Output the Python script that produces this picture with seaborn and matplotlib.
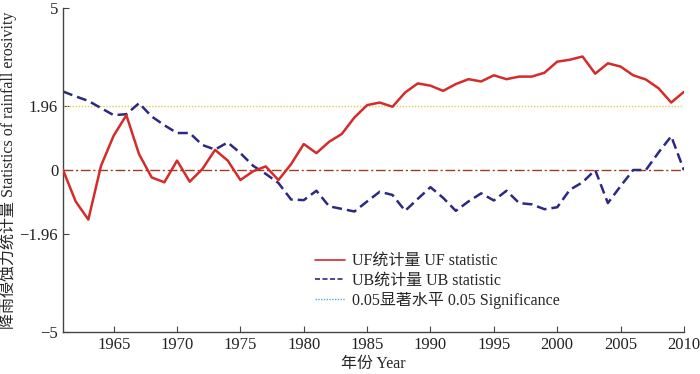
import numpy as np
import pandas as pd
import seaborn as sns
import matplotlib.pyplot as plt
from matplotlib.lines import Line2D

sns.set_style("ticks")
plt.rcParams['font.family'] = ['Liberation Serif', 'Noto Sans CJK SC']
plt.rcParams['axes.unicode_minus'] = True

# Datos
years = list(range(1961, 2011))
uf = [0.0, -0.97, -1.53, 0.13, 1.06, 1.69, 0.49, -0.23, -0.38, 0.29,
      -0.36, 0.03, 0.62, 0.29, -0.31, -0.04, 0.11, -0.31, 0.18, 0.80,
      0.52, 0.87, 1.11, 1.62, 2.00, 2.08, 1.95, 2.39, 2.67, 2.60,
      2.44, 2.65, 2.80, 2.73, 2.92, 2.80, 2.88, 2.88, 3.00, 3.34,
      3.40, 3.50, 2.97, 3.29, 3.19, 2.92, 2.79, 2.52, 2.08, 2.41]
ub = [2.42, 2.27, 2.13, 1.91, 1.69, 1.72, 2.06, 1.65, 1.38, 1.14,
      1.14, 0.77, 0.63, 0.85, 0.52, 0.13, -0.12, -0.40, -0.91, -0.93,
      -0.64, -1.12, -1.20, -1.28, -0.97, -0.67, -0.77, -1.26, -0.89, -0.53,
      -0.86, -1.26, -0.97, -0.72, -0.94, -0.64, -1.02, -1.06, -1.21, -1.15,
      -0.61, -0.38, 0.00, -1.02, -0.50, 0.00, 0.00, 0.54, 1.04, 0.00]
signif = 1.96
y_ticks = [-5, -1.96, 0, 1.96, 5]
y_labels = ["\u22125", "\u22121.96", "0", "1.96", "5"]
x_ticks = [1965, 1970, 1975, 1980, 1985, 1990, 1995, 2000, 2005, 2010]

df = pd.DataFrame({"year": years, "UF": uf, "UB": ub})

red = "#D42B2B"
navy = "#2C2A80"

fig, ax = plt.subplots(figsize=(7, 3.74), dpi=100)
fig.subplots_adjust(left=0.09, right=0.977, bottom=0.112, top=0.979)

ax.axhline(signif, color="#E6CC55", lw=1.0, ls=(0, (1, 1.2)), zorder=1)
ax.axhline(0, color="#A03A2A", lw=1.0, ls=(0, (7, 2, 1.5, 2)), zorder=1)

sns.lineplot(data=df, x="year", y="UF", color=red, lw=1.8, ax=ax, zorder=3)
sns.lineplot(data=df, x="year", y="UB", color=navy, lw=1.8,
             ls=(0, (4, 2)), ax=ax, zorder=2)

ax.set_xlim(1961, 2010)
ax.set_ylim(-5, 5)
ax.set_xticks(x_ticks)
ax.set_yticks(y_ticks)
ax.set_yticklabels(y_labels)
ax.tick_params(direction="in", length=4, labelsize=12, color="#444444",
               labelcolor="#222222")
sns.despine(ax=ax)
for s in ["left", "bottom"]:
    ax.spines[s].set_color("#444444")
    ax.spines[s].set_linewidth(1.0)

ax.set_xlabel("年份 Year", fontsize=11.5, labelpad=2)
ax.set_ylabel("降雨侵蚀力统计量 Statistics of rainfall erosivity",
              fontsize=11.5, labelpad=2)

handles = [
    Line2D([], [], color=red, lw=1.2),
    Line2D([], [], color=navy, lw=1.2, ls=(0, (3, 1.5))),
    Line2D([], [], color="#5AA8D8", lw=1.0, ls=(0, (1, 1))),
]
labels = ["UF统计量 UF statistic", "UB统计量 UB statistic",
          "0.05显著水平 0.05 Significance"]
ax.legend(handles, labels, loc="upper left", bbox_to_anchor=(0.393, 0.268),
          frameon=False, fontsize=11.5, handlelength=1.9, handletextpad=0.4,
          labelspacing=0.2, borderpad=0)

fig.savefig("out.png", dpi=100)
